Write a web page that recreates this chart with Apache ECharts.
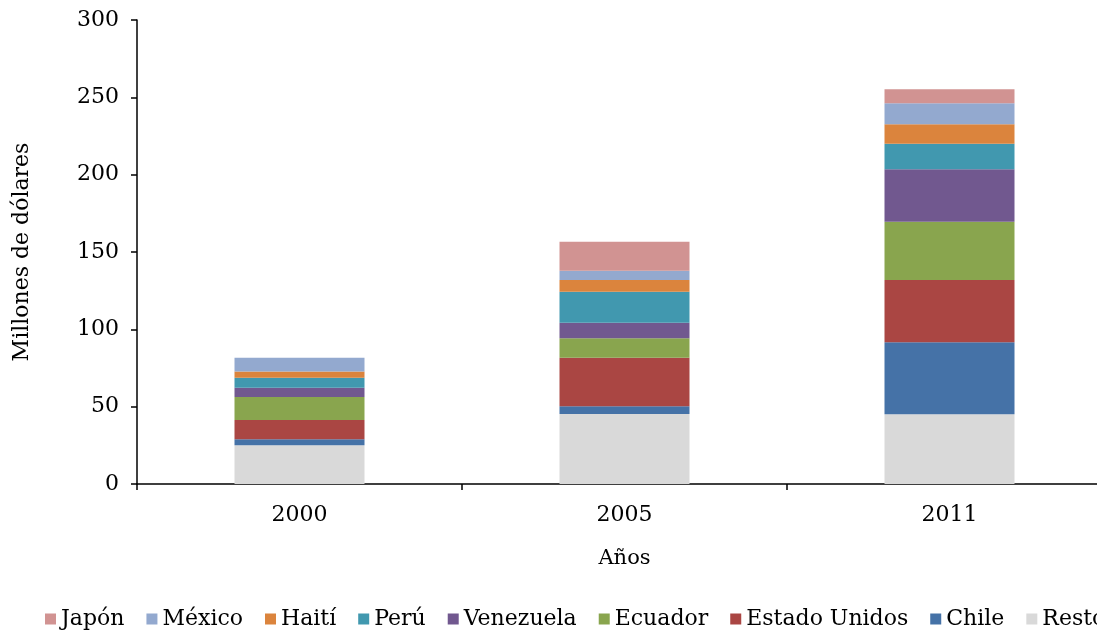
<!DOCTYPE html>
<html>
<head>
<meta charset="utf-8">
<script src="https://cdn.jsdelivr.net/npm/echarts@6/dist/echarts.min.js"></script>
<style>
  html, body { margin: 0; padding: 0; background: #fff; overflow: hidden; }
  /* el original está recortado por la derecha: el lienzo es más ancho que la ventana */
  #chart { width: 1125px; height: 630px; }
</style>
</head>
<body>
<div id="chart"></div>
<script>
// categorías y valores (millones de dólares)
const years = ['2000', '2005', '2011'];
const resto = [25, 45.3, 45.1];
const chile = [4, 4.9, 46.5];
const estadoUnidos = [12.3, 31.5, 40.3];
const ecuador = [15, 12.5, 37.7];
const venezuela = [6, 10.1, 33.9];
const peru = [6.4, 20, 16.5];
const haiti = [4, 7.6, 12.6];
const mexico = [9, 6, 13.5];
const japon = [0, 18.8, 9.1];
const yTicks = [0, 50, 100, 150, 200, 250, 300];

const font = 'DejaVu Serif';

// orden de apilado: de abajo hacia arriba
const stackOrder = [
  ['Resto', resto, '#D9D9D9'],
  ['Chile', chile, '#4572A7'],
  ['Estado Unidos', estadoUnidos, '#AA4643'],
  ['Ecuador', ecuador, '#89A54E'],
  ['Venezuela', venezuela, '#71588F'],
  ['Perú', peru, '#4198AF'],
  ['Haití', haiti, '#DB843D'],
  ['México', mexico, '#93A9CF'],
  ['Japón', japon, '#D19392']
];

const chart = echarts.init(document.getElementById('chart'));
const option = {
  animation: false,
  textStyle: { fontFamily: font },
  grid: { left: 137, width: 975, top: 20, bottom: 146, containLabel: false },
  legend: {
    data: stackOrder.map(s => s[0]).reverse(),
    left: 45,
    top: 608,
    padding: 0,
    icon: 'rect',
    itemWidth: 11,
    itemHeight: 11,
    itemGap: 22,
    textStyle: { fontFamily: font, fontSize: 22, color: '#000' }
  },
  xAxis: {
    type: 'category',
    data: years,
    name: 'Años',
    nameLocation: 'middle',
    nameGap: 64,
    nameTextStyle: { fontFamily: font, fontSize: 21, color: '#000' },
    axisLine: { lineStyle: { color: '#000', width: 1.5 } },
    axisTick: { show: true, length: 6, lineStyle: { color: '#000', width: 1.5 } },
    axisLabel: { color: '#000', fontSize: 22, margin: 20, fontFamily: font }
  },
  yAxis: {
    type: 'value',
    min: 0,
    max: 300,
    interval: 50,
    name: 'Millones de dólares',
    nameLocation: 'middle',
    nameGap: 104,
    nameRotate: 90,
    nameTextStyle: { fontFamily: font, fontSize: 22, color: '#000' },
    axisLine: { show: true, lineStyle: { color: '#000', width: 1.5 } },
    axisTick: { show: true, length: 6, lineStyle: { color: '#000', width: 1.5 } },
    splitLine: { show: false },
    axisLabel: {
      color: '#000', fontSize: 22, margin: 18, fontFamily: font,
      formatter: v => yTicks.includes(v) ? String(v) : ''
    }
  },
  series: stackOrder.map(([name, values, color]) => ({
    name: name,
    type: 'bar',
    stack: 'total',
    data: values,
    barWidth: 130,
    itemStyle: { color: color }
  }))
};
chart.setOption(option);
</script>
</body>
</html>
